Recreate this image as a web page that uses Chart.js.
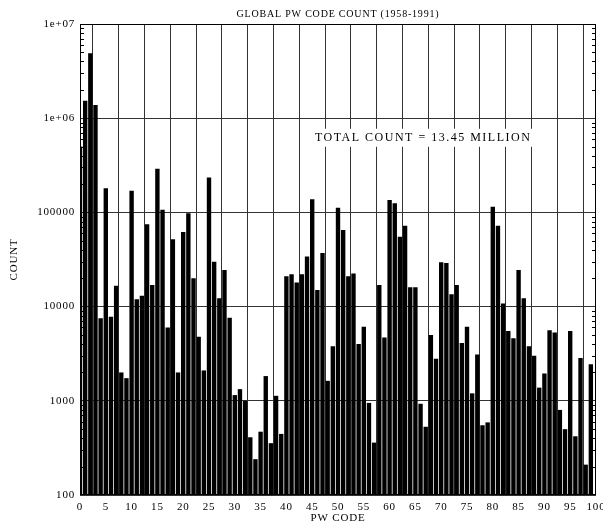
<!DOCTYPE html>
<html><head><meta charset="utf-8">
<script src="https://cdn.jsdelivr.net/npm/chart.js@4/dist/chart.umd.min.js"></script>
<style>html,body{margin:0;padding:0;background:#fff}canvas{display:block}</style>
</head><body>
<canvas id="c" width="603" height="527"></canvas>
<script>
const pwCodes = [0,1,2,3,4,5,6,7,8,9,10,11,12,13,14,15,16,17,18,19,20,21,22,23,24,25,26,27,28,29,30,31,32,33,34,35,36,37,38,39,40,41,42,43,44,45,46,47,48,49,50,51,52,53,54,55,56,57,58,59,60,61,62,63,64,65,66,67,68,69,70,71,72,73,74,75,76,77,78,79,80,81,82,83,84,85,86,87,88,89,90,91,92,93,94,95,96,97,98,99];
const counts = [
  500000, 1530000, 4900000, 1380000, 7500, 180000, 7800, 16600, 2000, 1740,
  170000, 12000, 13000, 75000, 17000, 290000, 107000, 6000, 52000, 2000,
  62000, 98000, 20000, 4800, 2100, 235000, 30000, 12300, 24500, 7600,
  1150, 1330, 1000, 410, 240, 470, 1830, 355, 1130, 445,
  21000, 22000, 18000, 22000, 34000, 138000, 15000, 37000, 1630, 3800,
  112000, 65000, 21000, 22500, 4000, 6100, 950, 360, 17000, 4700,
  135000, 125000, 55000, 72000, 16000, 16000, 930, 530, 5000, 2800,
  29500, 29000, 13500, 17000, 4100, 6100, 1200, 3100, 550, 590,
  115000, 72000, 10800, 5500, 4600, 24500, 12300, 3800, 3000, 1380,
  1950, 5600, 5300, 800, 500, 5500, 420, 2850, 210, 2450
];
const yTickValues = [100, 1000, 10000, 100000, 1000000, 10000000];
const yTickLabels = ['100', '1000', '10000', '100000', '1e+06', '1e+07'];
const titleText = 'GLOBAL PW CODE COUNT (1958-1991)';
const xTitle = 'PW CODE';
const yTitle = 'COUNT';
const annotationText = 'TOTAL COUNT = 13.45 MILLION';
const annotationAt = { x: 66.5, y: 620000 };

const FONT = "'Liberation Serif', 'Times New Roman', serif";
Chart.defaults.font.family = FONT;
Chart.defaults.color = '#000';

const frame = {
  id: 'frame',
  beforeDraw(chart) {
    const ctx = chart.ctx;
    ctx.save();
    ctx.fillStyle = '#fff';
    ctx.fillRect(0, 0, chart.width, chart.height);
    ctx.restore();
    ctx.letterSpacing = '0.8px';
  },
  afterDraw(chart) {
    const { ctx, chartArea: a, scales: { x, y } } = chart;
    ctx.save();
    ctx.strokeStyle = '#000';
    ctx.lineWidth = 1;
    ctx.strokeRect(a.left + 0.5, a.top + 0.5, a.right - a.left - 1, a.bottom - a.top - 1);
    ctx.beginPath();
    for (let i = 0; i < yTickValues.length - 1; i++) {
      for (let k = 2; k <= 9; k++) {
        const py = Math.round(y.getPixelForValue(yTickValues[i] * k)) + 0.5;
        ctx.moveTo(a.left, py); ctx.lineTo(a.left + 4, py);
        ctx.moveTo(a.right - 4, py); ctx.lineTo(a.right, py);
      }
    }
    ctx.stroke();
    ctx.font = '12px ' + FONT;
    ctx.letterSpacing = '1.5px';
    const w = ctx.measureText(annotationText).width;
    const cx = x.getPixelForValue(annotationAt.x), cy = y.getPixelForValue(annotationAt.y);
    ctx.fillStyle = '#fff';
    ctx.fillRect(cx - w / 2 - 5, cy - 9, w + 10, 18);
    ctx.fillStyle = '#000';
    ctx.textAlign = 'center';
    ctx.textBaseline = 'middle';
    ctx.fillText(annotationText, cx, cy);
    ctx.restore();
  }
};

new Chart(document.getElementById('c'), {
  type: 'bar',
  data: {
    datasets: [{
      data: pwCodes.map((c, i) => ({ x: c, y: counts[i] })),
      backgroundColor: '#000',
      borderWidth: 0,
      barPercentage: 0.85,
      categoryPercentage: 1.0
    }]
  },
  options: {
    responsive: false,
    animation: false,
    devicePixelRatio: 1,
    layout: { padding: { left: 0, right: 7, top: 0, bottom: 0 } },
    plugins: {
      legend: { display: false },
      tooltip: { enabled: false },
      title: {
        display: true, text: titleText, fullSize: false,
        font: { size: 10, weight: 'normal' }, color: '#000',
        padding: { top: 8, bottom: 4 }
      }
    },
    scales: {
      x: {
        type: 'linear', min: 0, max: 100, offset: false,
        ticks: { stepSize: 5, font: { size: 11 }, padding: 6, maxRotation: 0, autoSkip: false, color: '#000' },
        grid: { color: '#333', lineWidth: 1, drawTicks: false },
        border: { display: false },
        title: { display: true, text: xTitle, font: { size: 11 }, color: '#000', padding: { top: 0, bottom: 2 } },
        afterFit: s => { s.height = 32; s.paddingLeft = 0; s.paddingRight = 0; }
      },
      y: {
        type: 'logarithmic', min: 100, max: 10000000,
        afterBuildTicks: s => { s.ticks = yTickValues.map(v => ({ value: v })); },
        ticks: { callback: (v, i) => yTickLabels[i], font: { size: 11 }, padding: 5, color: '#000', autoSkip: false },
        grid: { color: '#333', lineWidth: 1, drawTicks: false },
        border: { display: false },
        title: { display: true, text: yTitle, font: { size: 11 }, color: '#000', padding: { top: 8, bottom: 0 } },
        afterFit: s => { s.width = 80; }
      }
    }
  },
  plugins: [frame]
});
</script>
</body></html>
